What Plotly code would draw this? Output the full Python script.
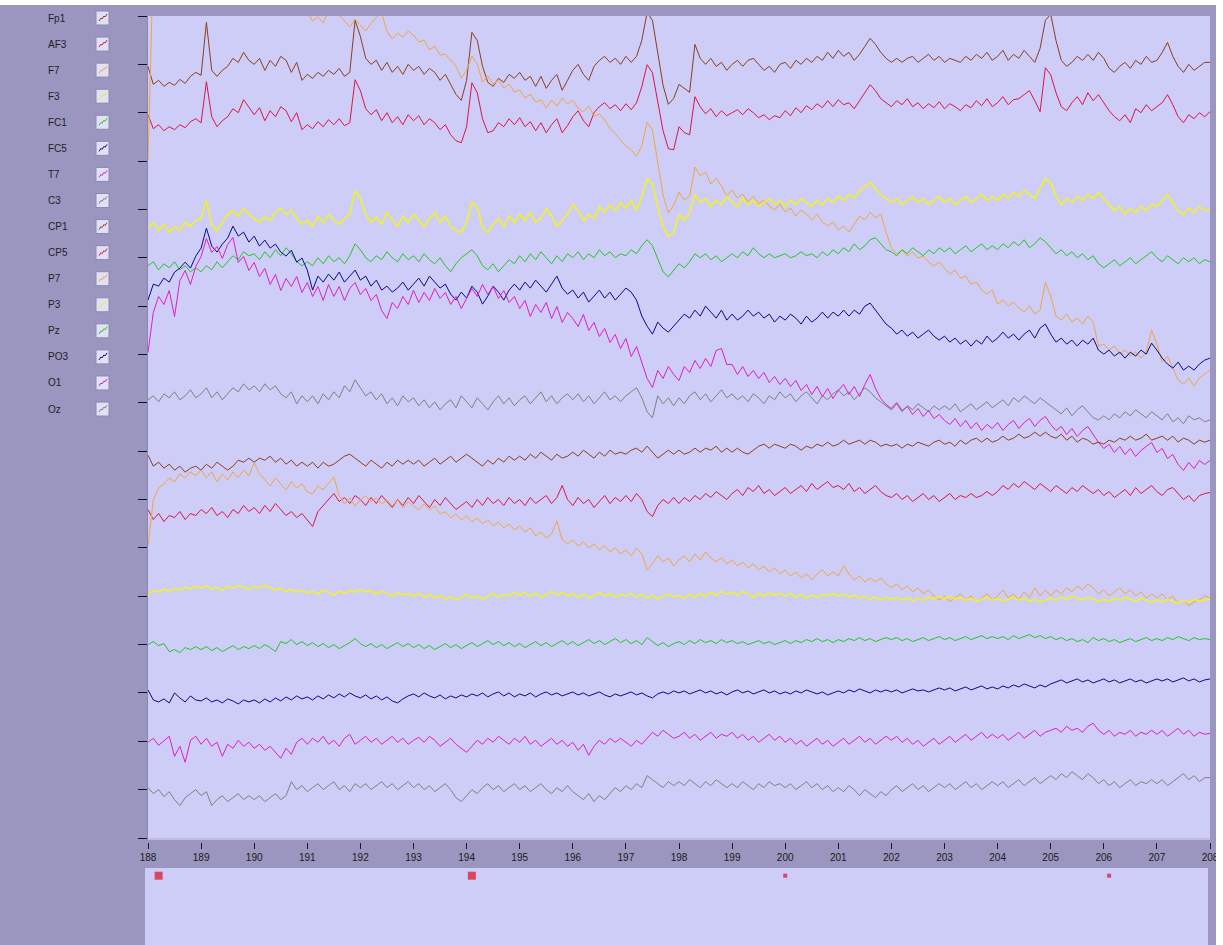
import plotly.graph_objects as go

# ---------------- data ----------------
T0 = 188.0          # first sample time (s)
SFREQ = 10.0        # samples per second
T_END = 208.0
CH_SPACING = 48.35  # µV between channel baselines

CHANNELS = ["Fp1", "AF3", "F7", "F3", "FC1", "FC5", "T7", "C3",
            "CP1", "CP5", "P7", "P3", "Pz", "PO3", "O1", "Oz"]

X_TICKS = list(range(188, 209))

FP1 = [-2,-20,-16,-22,-18,-21,-15,-19,-12,-8, -11,42,-6,-12,-6,-2,6,2,12,4,
       0,6,-6,4,-2,8,4,-8,2,-16, -10,-14,-8,-12,-6,-10,-4,-12,-8,44,
       28,6,0,4,-6,2,-8,-2,-10,0, -6,-2,-10,-4,-8,-16,-10,-20,-30,-36,
       -16,32,24,-2,-18,-22,-14,-18,-10,-14, -8,-16,-12,-22,-12,-24,-16,-10,-26,-16,
       -6,0,-10,-16,-2,4,8,2,6,0, 8,2,8,24,52,44,9,-21,-40,-34,
       -20,-24,-28,20,6,0,6,-2,2,-6, 0,4,-2,4,6,0,-6,-2,-8,0,
       2,-4,4,0,6,2,8,4,12,6, 14,8,12,4,10,18,26,20,12,6,
       2,6,2,6,8,2,6,10,4,8, 2,6,4,2,8,4,10,6,12,4,
       8,14,4,10,6,14,8,2,16,44, 50,24,4,-2,2,8,4,10,4,12,
       6,-4,-8,-2,2,-4,4,0,8,2, 4,12,22,8,-2,-8,0,-6,-2,2,
       2]
AF3 = [-2,-16,-12,-18,-14,-17,-12,-15,-9,-6, -10,31,-4,-14,-8,-4,4,0,13,6,
       -2,5,-8,2,-4,6,2,-9,0,-17, -12,-16,-9,-14,-7,-12,-6,-13,-10,33,
       22,4,-2,3,-8,0,-10,-4,-12,-2, -8,-3,-12,-6,-10,-17,-12,-22,-28,-30,
       -14,30,20,-6,-20,-18,-10,-14,-6,-12, -5,-14,-9,-18,-10,-20,-12,-6,-20,-13,
       -4,2,-8,-14,0,6,10,4,8,2, 9,3,10,26,48,40,10,-18,-36,-37,
       -14,-20,-22,16,6,-1,4,-4,2,-3, 0,3,-2,4,0,-5,-2,-7,-3,-5,
       2,-3,5,0,7,3,9,5,12,6, 13,8,10,4,12,20,28,22,14,10,
       6,12,8,14,6,10,4,9,5,11, 4,9,6,2,8,5,12,7,14,6,
       10,16,8,13,14,18,22,12,1,45, 38,20,6,2,10,16,8,20,12,18,
       10,2,-4,-8,-2,-10,4,0,8,2, 6,10,18,8,-4,-10,-2,-6,0,-4,
       1]
F7 = [1,200,215,210,220,215,225,218,222,215, 205,198,210,202,208,200,195,204,198,192,
      200,194,188,196,190,184,192,186,180,176, 150,140,144,138,150,158,146,140,134,142,
      136,130,138,144,148,130,122,128,124,130, 126,119,121,111,115,106,107,101,95,83,
      91,105,97,79,85,77,81,73,77,69, 71,63,67,59,61,53,61,55,63,57,
      61,53,49,55,45,47,41,33,27,21, 15,11,5,15,39,31,-4,-34,-52,-44,
      -31,-39,-35,-6,-15,-11,-23,-17,-25,-35, -29,-37,-33,-41,-35,-43,-39,-45,-49,-43,
      -51,-47,-55,-49,-53,-59,-53,-61,-65,-61, -69,-65,-71,-63,-55,-59,-51,-57,-53,-71,
      -87,-93,-89,-95,-91,-97,-95,-101,-105,-101, -107,-113,-109,-117,-115,-123,-121,-129,-133,-129,
      -143,-139,-145,-141,-147,-151,-145,-153,-149,-121, -135,-155,-159,-153,-161,-157,-163,-155,-161,-185,
      -183,-189,-185,-193,-189,-195,-191,-197,-191,-169, -183,-201,-195,-207,-219,-223,-217,-225,-217,-213,
      -209]
F3 = [-19,-13,-21,-15,-23,-17,-21,-13,-17,-11, -9,9,-15,-21,-13,-5,-1,-7,1,-5,
      -9,-13,-7,-11,-3,1,-5,-1,-9,-15, -11,-17,-7,-13,-5,-11,-15,-9,-5,19,
      11,-5,-13,-7,-15,-3,-11,-17,-7,-13, -5,-11,-17,-9,-3,-13,-7,-17,-21,-23,
      -13,7,3,-19,-23,-15,-9,-17,-7,-13, -5,-11,-3,-13,-9,1,-7,-17,-11,-5,
      5,-1,-11,-5,-9,3,-3,5,-1,7, 1,9,-1,13,31,25,3,-17,-27,-23,
      -5,-11,-3,15,7,11,3,9,5,13, 7,3,11,5,9,3,7,11,5,9,
      3,9,5,11,7,3,9,5,11,7, 13,9,15,11,19,23,27,21,15,11,
      7,11,5,9,13,7,11,5,9,13, 7,11,5,9,13,7,11,15,9,13,
      9,15,11,17,13,19,15,11,21,31, 27,13,5,11,7,13,9,15,11,17,
      11,5,-1,3,-5,1,-3,3,-1,5, 3,9,15,7,-1,-5,1,-3,3,-1,
      0]
FC1 = [-8,-4,-12,-6,-10,-4,-12,-8,-14,-10, -14,-8,-12,-4,-10,-4,2,-2,6,2,
       4,-2,6,0,8,2,10,4,-4,-8, -4,-8,0,-6,2,-4,0,-6,2,14,
       8,0,-4,2,-2,6,0,-4,4,-2, 2,-4,4,-2,-6,0,-8,-14,-6,0,
       4,8,2,-8,-12,-6,-14,-8,-2,-6, 2,-4,4,-2,6,0,-6,2,-4,4,
       0,6,-2,4,0,8,2,6,0,4, 2,8,4,12,18,12,-2,-14,-19,-12,
       -6,-10,-4,4,0,4,-2,2,-4,0, 4,0,6,2,10,4,0,4,0,2,
       4,0,2,6,2,4,0,6,2,8, 4,10,6,14,8,12,18,20,14,8,
       6,2,8,4,10,6,2,8,4,10, 6,10,4,8,12,6,10,14,8,12,
       8,14,10,16,12,18,10,14,20,16, 10,4,8,2,6,0,4,-2,2,-6,
       -10,-6,-2,-8,-4,0,-6,-2,2,6, 0,-4,2,-2,-6,0,-4,0,-6,-2,
       -4]
FC5 = [6,22,20,28,24,34,38,44,38,50, 58,78,60,54,62,68,80,70,74,64,
       70,60,66,58,62,54,50,56,44,48, 36,16,30,24,32,26,34,24,30,36,
       26,30,20,26,16,20,14,18,24,16, 22,28,20,30,24,18,22,12,6,14,
       8,20,14,2,10,20,14,6,16,22, 16,24,18,26,20,14,22,30,18,12,
       16,8,14,4,10,16,8,14,6,12, 18,14,6,-10,-20,-28,-16,-22,-26,-20,
       -14,-8,-12,-4,-10,0,-6,-12,-4,-14, -8,-14,-10,-4,-10,-6,-12,-8,-16,-10,
       -14,-8,-12,-18,-10,-16,-12,-6,-12,-6, -10,-4,-10,-4,-8,0,3,-4,-12,-18,
       -22,-28,-24,-30,-26,-32,-28,-24,-30,-34, -30,-36,-32,-38,-34,-40,-34,-38,-30,-36,
       -32,-26,-32,-28,-34,-28,-24,-32,-22,-18, -28,-36,-32,-38,-34,-40,-34,-38,-32,-44,
       -48,-44,-50,-46,-52,-46,-50,-44,-48,-37, -44,-52,-58,-62,-56,-64,-60,-64,-58,-54,
       -52]
T7 = [2,42,58,50,64,38,74,84,70,88, 98,116,102,108,96,110,117,92,98,84,
      92,78,86,70,80,64,76,68,78,62, 72,58,68,54,70,58,68,54,66,72,
      60,66,54,60,44,36,52,46,58,50, 64,52,62,54,66,56,62,50,58,46,
      56,66,58,70,60,68,56,64,52,58, 46,54,38,50,42,52,36,48,32,42,
      36,28,40,24,32,18,26,12,20,6, 16,-2,8,-8,-24,-33,-16,-24,-12,-20,
      -26,-12,-18,-6,-14,-4,-12,4,6,-10, -10,-20,-12,-22,-16,-24,-18,-28,-22,-30,
      -24,-32,-26,-36,-30,-40,-32,-42,-34,-44, -36,-30,-40,-32,-42,-30,-20,-34,-44,-50,
      -54,-48,-56,-52,-60,-54,-62,-56,-64,-60, -66,-70,-64,-72,-66,-74,-68,-76,-70,-74,
      -68,-76,-70,-66,-74,-68,-64,-72,-66,-62, -70,-76,-72,-80,-74,-82,-76,-72,-80,-88,
      -94,-90,-98,-92,-100,-94,-102,-96,-92,-88, -98,-94,-104,-100,-110,-116,-108,-114,-106,-110,
      -106]
C3 = [3,7,1,9,5,11,3,7,13,5, 9,15,5,11,3,9,15,11,19,13,
      17,11,19,13,17,9,5,11,-1,7, 1,7,-1,9,3,11,5,17,11,23,
      15,7,11,3,9,-1,5,-3,7,1, 5,-3,3,-5,1,-7,-1,3,-5,7,
      1,-5,5,-1,-7,1,7,-1,5,-3, 3,7,-1,5,11,1,7,-1,5,9,
      3,9,1,7,-1,5,11,3,7,1, 7,11,15,5,-9,-15,7,-1,5,-3,
      5,-1,7,11,3,9,1,7,13,5, 9,3,7,1,9,5,-1,7,3,11,
      5,9,1,7,11,5,-1,7,3,9, 13,7,11,3,9,15,11,5,1,-3,
      -7,-1,-9,-3,-7,-1,-5,-9,-3,-7, -3,-7,-1,-9,-5,-1,-7,-3,1,-5,
      -1,3,-3,5,1,7,3,-1,5,1, -3,-7,-11,-5,-13,-7,-3,-9,-15,-17,
      -13,-17,-11,-15,-9,-13,-7,-11,-15,-9, -13,-17,-11,-19,-15,-21,-13,-17,-15,-19,
      -17]
CP1 = [-4,-15,-11,-17,-13,-19,-15,-21,-17,-15, -19,-13,-17,-11,-15,-19,-15,-9,-11,-7,
       -11,-7,-9,-5,-11,-7,-13,-9,-15,-11, -15,-11,-17,-11,-15,-13,-9,-5,-3,-7,
       -11,-15,-9,-13,-17,-11,-15,-9,-13,-9, -13,-9,-15,-11,-7,-13,-9,-5,-11,-7,
       -3,-7,-11,-15,-9,-13,-7,-11,-5,-9, -5,-9,-3,-7,-1,-5,-9,-3,-7,-5,
       -1,-5,1,-3,-7,-1,-5,1,-3,-1, -3,1,3,-1,5,-1,-7,-3,1,-3,
       1,-3,-1,3,-1,3,1,5,-1,3, -1,3,-1,-3,1,5,7,3,7,5,
       3,7,5,1,5,3,7,5,9,5, 7,11,7,9,11,7,11,9,5,7,
       5,7,3,7,5,9,7,5,9,11, 7,9,5,11,7,11,13,9,13,9,
       11,15,11,13,17,13,15,19,15,19, 15,13,17,11,15,9,13,11,7,9,
       7,11,9,13,11,15,11,13,17,11, 13,15,11,15,9,13,11,7,11,9,
       11]
CP5 = [-10,-20,-14,-22,-16,-18,-12,-20,-14,-16, -10,-14,-8,-16,-12,-18,-10,-14,-6,-12,
       -8,-14,-6,-12,-4,-10,-16,-12,-18,-14, -20,-27,-12,-6,0,6,-2,2,-4,4,
       0,-6,2,-4,4,-2,-8,0,-6,2, -4,4,-2,-8,0,-6,2,-4,-10,-6,
       -2,-8,0,-6,2,-4,0,-6,2,-4, 0,-6,2,-4,0,4,-4,2,14,0,
       -6,2,-4,0,-8,-2,4,-4,2,-2, 4,-2,6,0,-12,-17,-6,0,-4,2,
       -4,2,-2,4,0,6,2,8,4,0, 6,10,4,12,8,14,6,10,4,8,
       12,6,10,14,8,16,10,14,18,12, 14,10,16,8,12,6,10,14,8,4,
       2,6,0,4,-2,2,6,0,4,-2, 2,6,0,4,2,6,2,4,8,4,
       8,14,10,16,12,18,14,10,16,12, 8,14,10,6,12,8,14,10,6,10,
       4,8,2,6,10,4,12,6,10,14, 8,4,10,12,6,0,4,-2,4,6,
       7]
P7 = [2,48,60,64,70,66,74,70,76,72, 78,70,76,66,74,68,76,70,78,72,
      85,74,68,62,70,64,58,66,60,64, 56,54,62,58,64,71,52,44,50,42,
      48,52,46,50,44,48,42,48,40,46, 42,38,44,38,42,34,36,30,34,28,
      32,26,30,24,28,22,26,20,24,18, 22,16,20,12,16,10,14,27,8,4,
      8,2,6,0,4,-2,2,-4,0,-6, -2,-8,0,-6,-22,-16,-8,-14,-10,-18,
      -12,-8,-14,-6,-12,-4,-10,-14,-10,-16, -12,-18,-14,-20,-16,-22,-18,-24,-20,-26,
      -22,-28,-24,-30,-26,-32,-26,-22,-28,-24, -28,-18,-26,-32,-28,-34,-30,-34,-30,-36,
      -40,-36,-42,-38,-44,-40,-46,-42,-48,-52, -48,-54,-50,-46,-52,-48,-54,-50,-46,-52,
      -48,-42,-50,-46,-52,-44,-50,-40,-48,-42, -48,-42,-46,-40,-44,-38,-42,-36,-40,-46,
      -42,-48,-44,-40,-46,-42,-48,-44,-50,-46, -50,-46,-52,-48,-56,-52,-58,-54,-52,-48,
      -50]
P3 = [2,6,4,7,5,8,6,9,7,10, 8,11,7,9,6,10,8,11,9,7,
      10,8,11,9,6,8,5,7,4,6, 3,5,2,6,4,1,5,3,6,4,
      7,4,6,2,5,3,0,4,1,3, 0,3,-1,2,-2,1,-3,0,-4,-1,
      2,-2,1,-3,0,3,-1,2,0,4, 1,4,0,3,-1,2,5,1,4,0,
      3,-1,2,-2,1,4,0,3,-1,2, 0,3,-1,2,-2,1,-3,0,2,-1,
      1,-2,2,-1,3,0,4,1,5,2, 4,1,5,2,-1,3,0,4,1,3,
      0,3,-1,2,-2,1,-1,2,0,3, 0,2,-1,1,-2,0,-3,-1,-4,-1,
      -3,-1,-4,-2,-5,-2,-4,-1,-3,0, -2,0,-3,-1,-4,-2,-5,-3,-1,-4,
      -2,-5,-3,-1,-4,-2,-5,-3,-6,-4, -2,-4,-1,-3,0,-2,-4,-1,-3,-5,
      -3,-5,-2,-4,-1,-3,-5,-2,-4,-6, -4,-6,-3,-5,-7,-4,-6,-3,-5,-4,
      -3]
PZ = [0,3,-1,1,-7,-5,-8,-3,-5,-2, -5,-2,-6,-3,-7,-4,-1,-5,-2,-4,
      -1,-4,0,-3,-7,3,1,5,0,3, -1,2,-2,1,-3,0,-4,-1,2,6,
      1,-2,1,-3,0,-4,-1,2,-2,1, -3,0,-4,-1,-5,-2,1,-3,0,-4,
      -1,2,-2,1,4,0,3,-1,2,-2, 1,-3,0,3,-1,2,-2,1,4,0,
      3,-1,2,5,1,4,0,3,6,2, 5,1,4,0,7,3,-1,2,-2,1,
      3,0,4,1,5,2,4,1,5,2, 4,1,3,0,2,4,1,3,0,2,
      4,1,4,2,5,3,6,3,5,2, 5,3,6,4,7,4,6,3,5,7,
      5,7,4,6,3,5,7,4,6,8, 5,7,4,6,8,5,7,9,6,8,
      6,8,5,9,6,8,10,7,9,6, 8,5,7,4,6,3,5,2,7,4,
      6,3,5,2,4,6,3,5,7,4, 6,4,7,5,8,6,4,7,5,6,
      5]
PO3 = [3,-7,-9,-6,-10,0,-5,-9,-3,-7, -8,-5,-9,-7,-10,-6,-8,-11,-7,-9,
       -7,-10,-6,-9,-5,-8,-4,-7,-3,-6, -4,-7,-3,-6,-2,-5,-1,-4,0,-3,
       -5,-2,-6,-3,-7,-4,-8,-10,-6,-3, -1,-4,0,-3,-5,-2,-6,-3,-5,-2,
       -4,-1,-3,0,-4,-1,1,-3,0,-4, -1,-3,0,-4,-1,1,-2,0,-3,-1,
       1,-2,0,-3,-1,1,-2,-4,-1,-3, -1,1,-2,0,-3,-5,-1,1,-1,2,
       0,2,-1,1,3,0,2,-1,1,-2, 1,3,0,2,-1,1,3,0,2,-1,
       1,-1,2,0,3,1,-1,1,-2,0, 2,0,3,1,4,2,0,3,1,3,
       1,3,0,2,4,2,3,1,3,5, 3,5,2,4,6,3,5,7,4,6,
       4,7,5,8,6,9,7,5,8,6, 9,11,13,10,12,14,11,13,10,12,
       14,11,13,10,12,14,11,13,10,12, 14,12,14,11,13,15,12,14,11,13,
       14]
O1 = [-1,3,-4,1,5,-15,-5,-21,1,5, -3,3,-5,-1,-15,-3,-7,1,-5,-1,
      -7,-3,-9,-5,-11,-17,-7,-13,-1,3, -3,3,-1,5,-3,1,-5,3,7,-3,
      1,5,-1,3,-3,1,5,-1,3,-3, 1,4,-1,5,1,-5,-1,3,-3,-7,
      -11,-5,1,-3,3,-1,5,1,-3,3, -1,5,-3,1,-5,-1,3,-3,1,-5,
      -1,-9,-3,-14,-5,1,-3,3,-1,3, -1,-5,1,-3,3,9,5,11,7,3,
      5,9,3,7,1,5,9,3,7,5, 9,3,7,1,5,-1,3,7,1,5,
      -1,3,-3,1,-5,-1,3,-3,1,-5, -1,3,-3,1,5,-1,3,-3,1,5,
      1,5,-1,3,-3,1,-5,-1,3,-3, 1,5,-1,3,7,1,5,9,3,7,
      3,7,1,5,9,3,7,11,5,9, 11,13,9,15,11,13,9,15,18,11,
      7,11,5,9,7,11,5,9,7,11, 7,11,5,9,13,7,11,5,9,7,
      8]
OZ = [2,-4,0,-7,-2,-10,-16,-8,-4,0, -6,-2,-16,-10,-6,-12,-8,-4,-10,-6,
      -10,-6,-12,-8,-4,-10,-6,8,0,4, -2,2,6,0,4,8,0,4,-2,6,
      2,6,0,4,8,2,6,0,4,8, 2,6,0,4,-2,2,6,0,-8,-12,
      -6,0,-4,2,6,0,4,-2,2,6, 0,4,-2,2,6,0,-4,2,-2,4,
      -2,-6,-10,-4,-12,-6,-10,-4,2,-2, 4,0,6,2,14,10,6,2,8,4,
      8,4,10,6,2,8,4,10,6,2, 6,2,8,4,0,6,2,8,4,6,
      2,6,0,4,8,2,6,0,4,-2, 2,-2,4,0,-6,0,-4,-8,-2,-6,
      0,4,-2,2,6,0,4,-2,2,6, 2,6,0,4,8,2,6,0,4,8,
      4,8,2,6,10,4,8,12,6,10, 14,10,16,12,18,14,10,16,12,6,
      10,4,8,2,6,10,4,8,6,10, 6,10,4,8,12,16,10,14,8,12,
      12]

SIGNALS = [FP1, AF3, F7, F3, FC1, FC5, T7, C3, CP1, CP5, P7, P3, PZ, PO3, O1, OZ]

EVENT_TIMES = [188.2, 194.1, 200.0, 206.1]
EVENT_TYPES = ["stim", "stim", "resp", "resp"]

# ---------------- styles ----------------
W, H = 1223, 945
PALETTE = ["#8b3d1f", "#dc1446", "#f2a541", "#eeee3c",
           "#26c426", "#0a0a80", "#e01ec0", "#808080"]
COLORS = [PALETTE[i % 8] for i in range(len(CHANNELS))]
WIDTHS = [1.8 if PALETTE[i % 8] == "#eeee3c" else 1.0 for i in range(len(CHANNELS))]
PANEL_BG = "#9b96bf"
PLOT_BG = "#cdcdf8"
FONT = "Liberation Sans, Arial, sans-serif"

# pixel layout of the viewer
PLOT_L, PLOT_R, PLOT_T, PLOT_B = 148, 1210, 16, 838
EV_L, EV_R, EV_T = 145, 1208, 868


def fx(px):
    return px / W


def fy(py):
    return 1 - py / H


n_rows = len(CHANNELS) + 1
y_range = [-n_rows * CH_SPACING, 0]
pps = (PLOT_R - PLOT_L) / (T_END - T0)

fig = go.Figure()

for k, (name, sig, col, lw) in enumerate(zip(CHANNELS, SIGNALS, COLORS, WIDTHS)):
    base = -(k + 1) * CH_SPACING
    t = [T0 + i / SFREQ for i in range(len(sig))]
    fig.add_trace(go.Scatter(
        x=t, y=[base + v for v in sig], mode="lines", name=name,
        line=dict(color=col, width=lw), hoverinfo="skip", showlegend=False,
        xaxis="x", yaxis="y"))

# event markers
ev_style = {"stim": dict(size=8, color="#e0101e"), "resp": dict(size=4, color="#d8102e")}
fig.add_trace(go.Scatter(
    x=EVENT_TIMES, y=[0.9] * len(EVENT_TIMES), mode="markers",
    marker=dict(symbol="square",
                size=[ev_style[e]["size"] for e in EVENT_TYPES],
                color=[ev_style[e]["color"] for e in EVENT_TYPES],
                line=dict(width=0)),
    hoverinfo="skip", showlegend=False, xaxis="x2", yaxis="y2"))

shapes = []
annotations = []

# channel list with icons
for i, (name, col) in enumerate(zip(CHANNELS, COLORS)):
    yc = 18 + 26.07 * i
    annotations.append(dict(
        x=fx(47), y=fy(yc), xref="paper", yref="paper", text=name,
        showarrow=False, xanchor="left", yanchor="middle", borderpad=0,
        font=dict(family=FONT, size=10, color="#1e1e2a")))
    bx0, bx1 = 96, 109
    shapes.append(dict(type="rect", xref="paper", yref="paper",
                       x0=fx(bx0), x1=fx(bx1), y0=fy(yc + 7), y1=fy(yc - 7),
                       fillcolor="#e0e0f6", line=dict(color="#8c89ad", width=1),
                       layer="above"))
    pts = [(3, 3), (5, 0), (6, 1), (8, -2), (9, -1), (11, -4)]
    path = "M " + " L ".join(f"{fx(bx0 + dx)},{fy(yc + dy)}" for dx, dy in pts)
    shapes.append(dict(type="path", xref="paper", yref="paper", path=path,
                       line=dict(color=col, width=1), layer="above"))

# light edge under plot area
shapes.append(dict(type="line", xref="paper", yref="paper",
                   x0=fx(PLOT_L), x1=fx(PLOT_R), y0=fy(PLOT_B + 1), y1=fy(PLOT_B + 1),
                   line=dict(color="#e6e6fb", width=1), layer="above"))
# white window edges
shapes.append(dict(type="rect", xref="paper", yref="paper", x0=0, x1=1,
                   y0=fy(5), y1=1, fillcolor="white", line=dict(width=0), layer="above"))
shapes.append(dict(type="rect", xref="paper", yref="paper", x0=fx(1216), x1=1,
                   y0=0, y1=1, fillcolor="white", line=dict(width=0), layer="above"))

fig.update_layout(
    template="none",
    width=W, height=H, autosize=False,
    margin=dict(l=0, r=0, t=0, b=0, pad=0, autoexpand=False),
    paper_bgcolor=PANEL_BG, plot_bgcolor=PLOT_BG,
    showlegend=False,
    xaxis=dict(domain=[fx(PLOT_L), fx(PLOT_R)], range=[T0, T_END],
               anchor="free", position=fy(842), automargin=False,
               tickmode="array", tickvals=X_TICKS, ticktext=[str(v) for v in X_TICKS],
               ticks="outside", ticklen=6, tickwidth=1, tickcolor="#1a1a1a",
               tickfont=dict(family=FONT, size=10, color="#1a1a1a"),
               showgrid=False, zeroline=False, showline=False, fixedrange=True),
    yaxis=dict(domain=[fy(PLOT_B), fy(PLOT_T)], range=y_range, automargin=False,
               tickmode="array", tickvals=[-k * CH_SPACING for k in range(n_rows + 1)],
               showticklabels=False, ticks="outside", ticklen=9, tickwidth=1,
               tickcolor="#111111", showgrid=False, zeroline=False,
               showline=True, linecolor="#8a86b2", linewidth=1, fixedrange=True),
    xaxis2=dict(domain=[fx(EV_L), fx(EV_R)], automargin=False,
                range=[T0 + (EV_L - PLOT_L) / pps, T0 + (EV_R - PLOT_L) / pps],
                anchor="y2", visible=False, fixedrange=True),
    yaxis2=dict(domain=[0, fy(EV_T)], range=[0, 1], anchor="x2", automargin=False,
                visible=False, fixedrange=True),
    shapes=shapes, annotations=annotations,
)

fig.write_html("out.html", config={"displayModeBar": False})
